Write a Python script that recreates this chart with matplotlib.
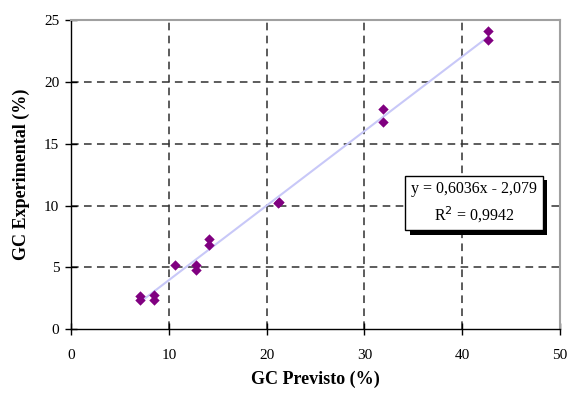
import matplotlib
matplotlib.use("Agg")
import matplotlib.pyplot as plt
import matplotlib.patheffects as pe
import numpy as np

plt.rcParams['font.family'] = ['Liberation Serif', 'DejaVu Serif']

gc_previsto = [7.06, 7.06, 8.52, 8.52, 10.66, 12.78, 12.78, 14.14, 14.14, 21.15, 21.3, 31.9, 31.9, 42.6, 42.6]
gc_experimental = [2.67, 2.32, 2.73, 2.35, 5.18, 5.18, 4.78, 7.29, 6.83, 10.22, 10.3, 17.81, 16.76, 24.15, 23.38]
slope = 0.6036
intercept = -2.079
r2_text = "0,9942"
xticks = [0, 10, 20, 30, 40, 50]
yticks = [0, 5, 10, 15, 20, 25]

fig = plt.figure(figsize=(5.69, 3.93), dpi=100)
ax = fig.add_axes([0.1248, 0.1628, 0.8594, 0.7855])

ax.set_xlim(0, 50)
ax.set_ylim(0, 25)
ax.set_xticks(xticks)
ax.set_yticks(yticks)
ax.set_xticklabels([str(t) for t in xticks])
ax.set_yticklabels([str(t) for t in yticks])

for v in xticks[1:-1]:
    ax.axvline(v, color='#303030', lw=1.1, ls=(0, (5, 3.5)), zorder=1)
for v in yticks[1:-1]:
    ax.axhline(v, color='#303030', lw=1.1, ls=(0, (5, 3.5)), zorder=1)

xs = np.array([min(gc_previsto), max(gc_previsto)])
ax.plot(xs, slope * xs + intercept, color='#c8c8f8', lw=1.5, zorder=2)
ax.scatter(gc_previsto, gc_experimental, marker='D', s=28, color='#800080', zorder=3, linewidths=0)

for s in ['top', 'right']:
    ax.spines[s].set_color('#a0a0a0')
    ax.spines[s].set_linewidth(1.5)
for s in ['left', 'bottom']:
    ax.spines[s].set_color('black')
    ax.spines[s].set_linewidth(1.0)

ax.tick_params(direction='inout', length=9, width=1, labelsize=11, pad=4)
ax.tick_params(axis='x', pad=10)

ax.set_xlabel('GC Previsto (%)', fontsize=13, fontweight='bold', labelpad=6)
ax.set_ylabel('GC Experimental (%)', fontsize=13, fontweight='bold', labelpad=10)

txt = ax.text(41.2, 10.2, "y = 0,6036x - 2,079\nR$^2$ = " + r2_text, fontsize=11.5,
              ha='center', va='center', linespacing=1.45, zorder=5,
              bbox=dict(boxstyle='square,pad=0.35', facecolor='white', edgecolor='black', lw=1.0))
txt.get_bbox_patch().set_path_effects([pe.SimplePatchShadow(offset=(3, -3), shadow_rgbFace='black', alpha=1.0), pe.Normal()])

fig.savefig('out.png', dpi=100)
